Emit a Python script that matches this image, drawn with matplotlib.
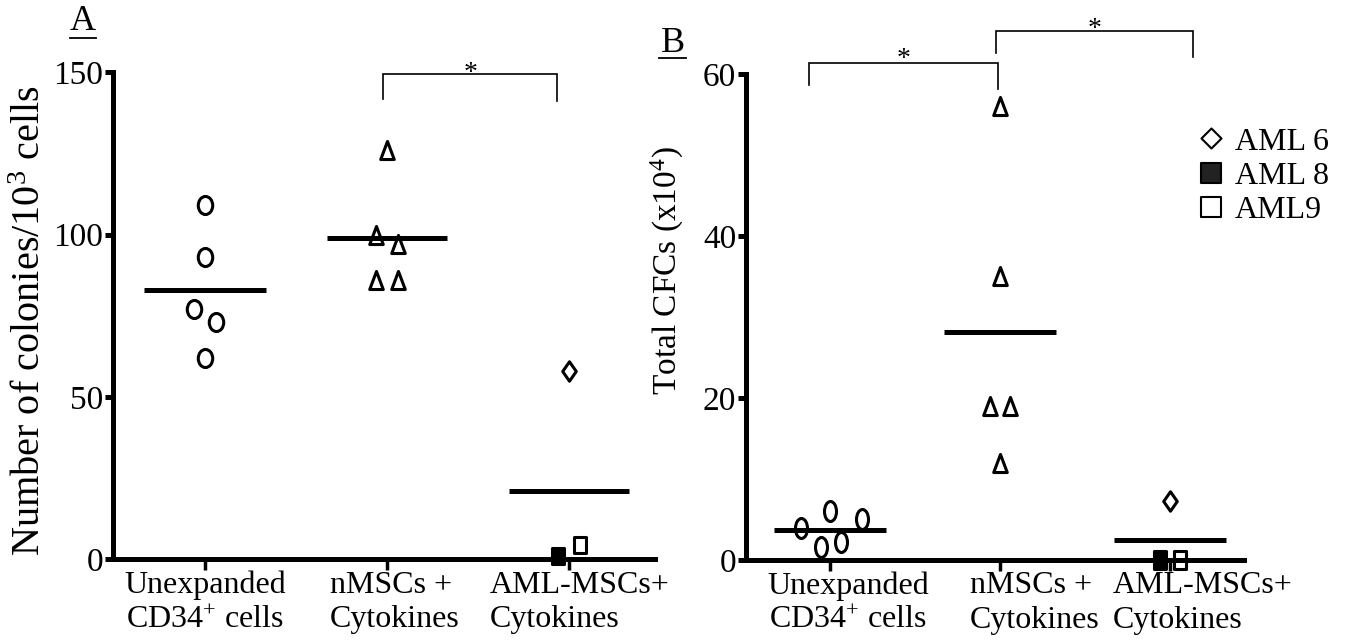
import matplotlib.pyplot as plt
import numpy as np
from matplotlib.path import Path
from matplotlib.lines import Line2D
from matplotlib.transforms import ScaledTranslation

plt.rcParams['font.family'] = 'Liberation Serif'
plt.rcParams['mathtext.fontset'] = 'custom'
plt.rcParams['mathtext.rm'] = 'Liberation Serif'
plt.rcParams['mathtext.it'] = 'Liberation Serif:italic'
plt.rcParams['mathtext.bf'] = 'Liberation Serif:bold'

groups = ['Unexpanded\nCD34$^{+}$ cells', 'nMSCs +\nCytokines', 'AML-MSCs+\nCytokines']

# A: colonies per 10^3 cells
a_cd34 = [109, 93, 77, 73, 62]
a_nmsc = [126, 100, 97, 86, 86]
a_aml = [58, 1, 4.5]          # AML 6, AML 8, AML9

# B: total CFCs (x10^4)
b_cd34 = [4, 6, 5, 1.6, 2.2]
b_nmsc = [56, 35, 19, 19, 12]
b_aml = [7.3, 0, 0]

# horizontal scatter of points inside each group
a_cd34_dx = [0, 0, -0.06, 0.06, 0]
a_nmsc_dx = [0, -0.06, 0.06, -0.06, 0.06]
b_cd34_dx = [-0.17, 0.0, 0.19, -0.05, 0.065]
b_nmsc_dx = [0, 0, -0.06, 0.06, 0]
aml_dx = [0, -0.06, 0.06]


def oval(w):
    c = Path.unit_circle()
    return Path(c.vertices * [w, 1], c.codes)


def rect(w):
    return Path([(-w, -1), (w, -1), (w, 1), (-w, 1), (-w, -1)],
                [Path.MOVETO, Path.LINETO, Path.LINETO, Path.LINETO, Path.CLOSEPOLY])


def tri(w):
    return Path([(0, 1), (-w, -1), (w, -1), (0, 1)],
                [Path.MOVETO, Path.LINETO, Path.LINETO, Path.CLOSEPOLY])


def diamond(w):
    return Path([(0, 1), (w, 0), (0, -1), (-w, 0), (0, 1)],
                [Path.MOVETO, Path.LINETO, Path.LINETO, Path.LINETO, Path.CLOSEPOLY])


fig = plt.figure(figsize=(13.48, 6.43), dpi=100)
ax_a = fig.add_axes([0.0838, 0.1299, 0.402, 0.758])
ax_b = fig.add_axes([0.5534, 0.1291, 0.3694, 0.756])

LW = 3.6


def style_axes(ax, ylim, yticks, xlim, label_shift):
    ax.set_xlim(*xlim)
    ax.set_ylim(*ylim)
    for s in ['top', 'right']:
        ax.spines[s].set_visible(False)
    for s in ['left', 'bottom']:
        ax.spines[s].set_linewidth(LW)
    ax.set_yticks(yticks)
    ax.set_xticks([1, 2, 3])
    ax.set_xticklabels(groups, fontsize=23, linespacing=1.25)
    ax.tick_params(axis='y', length=6, width=LW, labelsize=24, pad=1)
    ax.tick_params(axis='x', length=8, width=2.5, pad=0)
    for lab, dx, ma in zip(ax.get_xticklabels(), label_shift, ['center', 'left', 'left']):
        lab.set_multialignment(ma)
        lab.set_transform(lab.get_transform() + ScaledTranslation(dx / 100, 0, fig.dpi_scale_trans))
    ax.patch.set_alpha(0)


def mean_bar(ax, x, vals, half):
    ax.hlines(np.mean(vals), x - half, x + half, color='black', lw=LW, zorder=3)


def points(ax, x, vals, dx, path, ms, mew=2.2, fc='none'):
    ax.plot(np.array(dx) + x, vals, ls='none', marker=path, ms=ms, mfc=fc,
            mec='black', mew=mew, clip_on=False, zorder=4)


def bracket(ax, x0, x1, ytop, y0, y1, star_dy):
    ax.plot([x0, x0, x1, x1], [y0, ytop, ytop, y1], color='black', lw=1.2,
            clip_on=False, solid_joinstyle='miter')
    ax.text((x0 + x1) / 2, ytop + star_dy, '*', ha='center', va='center', fontsize=20)


# panel A
style_axes(ax_a, (0, 150), [0, 50, 100, 150], (0.495, 3.47), [0, 8, 10])
points(ax_a, 1, a_cd34, a_cd34_dx, oval(0.8), 13)
points(ax_a, 2, a_nmsc, a_nmsc_dx, tri(0.75), 13)
points(ax_a, 3, a_aml[:1], aml_dx[:1], diamond(0.7), 14)
points(ax_a, 3, a_aml[1:2], aml_dx[1:2], rect(0.75), 11.5, fc='black')
points(ax_a, 3, a_aml[2:], aml_dx[2:], rect(0.75), 11.5)
mean_bar(ax_a, 1, a_cd34, 0.335)
mean_bar(ax_a, 2, a_nmsc, 0.33)
mean_bar(ax_a, 3, a_aml, 0.33)
bracket(ax_a, 1.978, 2.934, 149.4, 141.7, 141.1, 0.2)
ax_a.text(-0.152, 0.49, 'Number of colonies/10$^{3}$ cells', rotation=90, fontsize=29,
          ha='center', va='center', transform=ax_a.transAxes)

# panel B
style_axes(ax_b, (0, 60), [0, 20, 40, 60], (0.506, 3.435), [18, 35, 33])
points(ax_b, 1, b_cd34, b_cd34_dx, oval(0.6), 14.4)
points(ax_b, 2, b_nmsc, b_nmsc_dx, tri(0.75), 13)
points(ax_b, 3, b_aml[:1], aml_dx[:1], diamond(0.7), 14)
points(ax_b, 3, b_aml[1:2], aml_dx[1:2], rect(0.7), 13, fc='black')
points(ax_b, 3, b_aml[2:], aml_dx[2:], rect(0.7), 13)
mean_bar(ax_b, 1, b_cd34, 0.33)
mean_bar(ax_b, 2, b_nmsc, 0.33)
mean_bar(ax_b, 3, b_aml, 0.33)
bracket(ax_b, 0.876, 1.99, 61.4, 58.6, 58.1, 0.37)
bracket(ax_b, 1.976, 3.135, 65.3, 62.6, 62.1, 0.12)
ax_b.text(-0.157, 0.595, 'Total CFCs (x10$^{4}$)', rotation=90, fontsize=24,
          ha='center', va='center', transform=ax_b.transAxes)

handles = [
    Line2D([], [], ls='none', marker=diamond(1.0), ms=14.4, mfc='white', mec='black', mew=1.5),
    Line2D([], [], ls='none', marker=rect(1.0), ms=14.4, mfc='#222222', mec='black', mew=1.5),
    Line2D([], [], ls='none', marker=rect(1.0), ms=14.4, mfc='white', mec='black', mew=1.5),
]
fig.legend(handles, ['AML 6', 'AML 8', 'AML9'], loc='center left',
           bbox_to_anchor=(1198 / 1348, 1 - 176 / 643), bbox_transform=fig.transFigure,
           frameon=False, fontsize=23, handlelength=0.8, handletextpad=0.35,
           labelspacing=0.15, borderpad=0, borderaxespad=0)

# panel letters, underlined
for letter, (px, py), (u0, u1, uy) in [('A', (83, 22), (70, 96, 38)),
                                       ('B', (673, 43), (659, 686, 58))]:
    fig.text(px / 1348, 1 - py / 643, letter, fontsize=26, ha='center', va='center')
    fig.add_artist(Line2D([u0 / 1348, u1 / 1348], [1 - uy / 643, 1 - uy / 643],
                          transform=fig.transFigure, color='black', lw=1.3))

fig.savefig('out.png', dpi=100)
